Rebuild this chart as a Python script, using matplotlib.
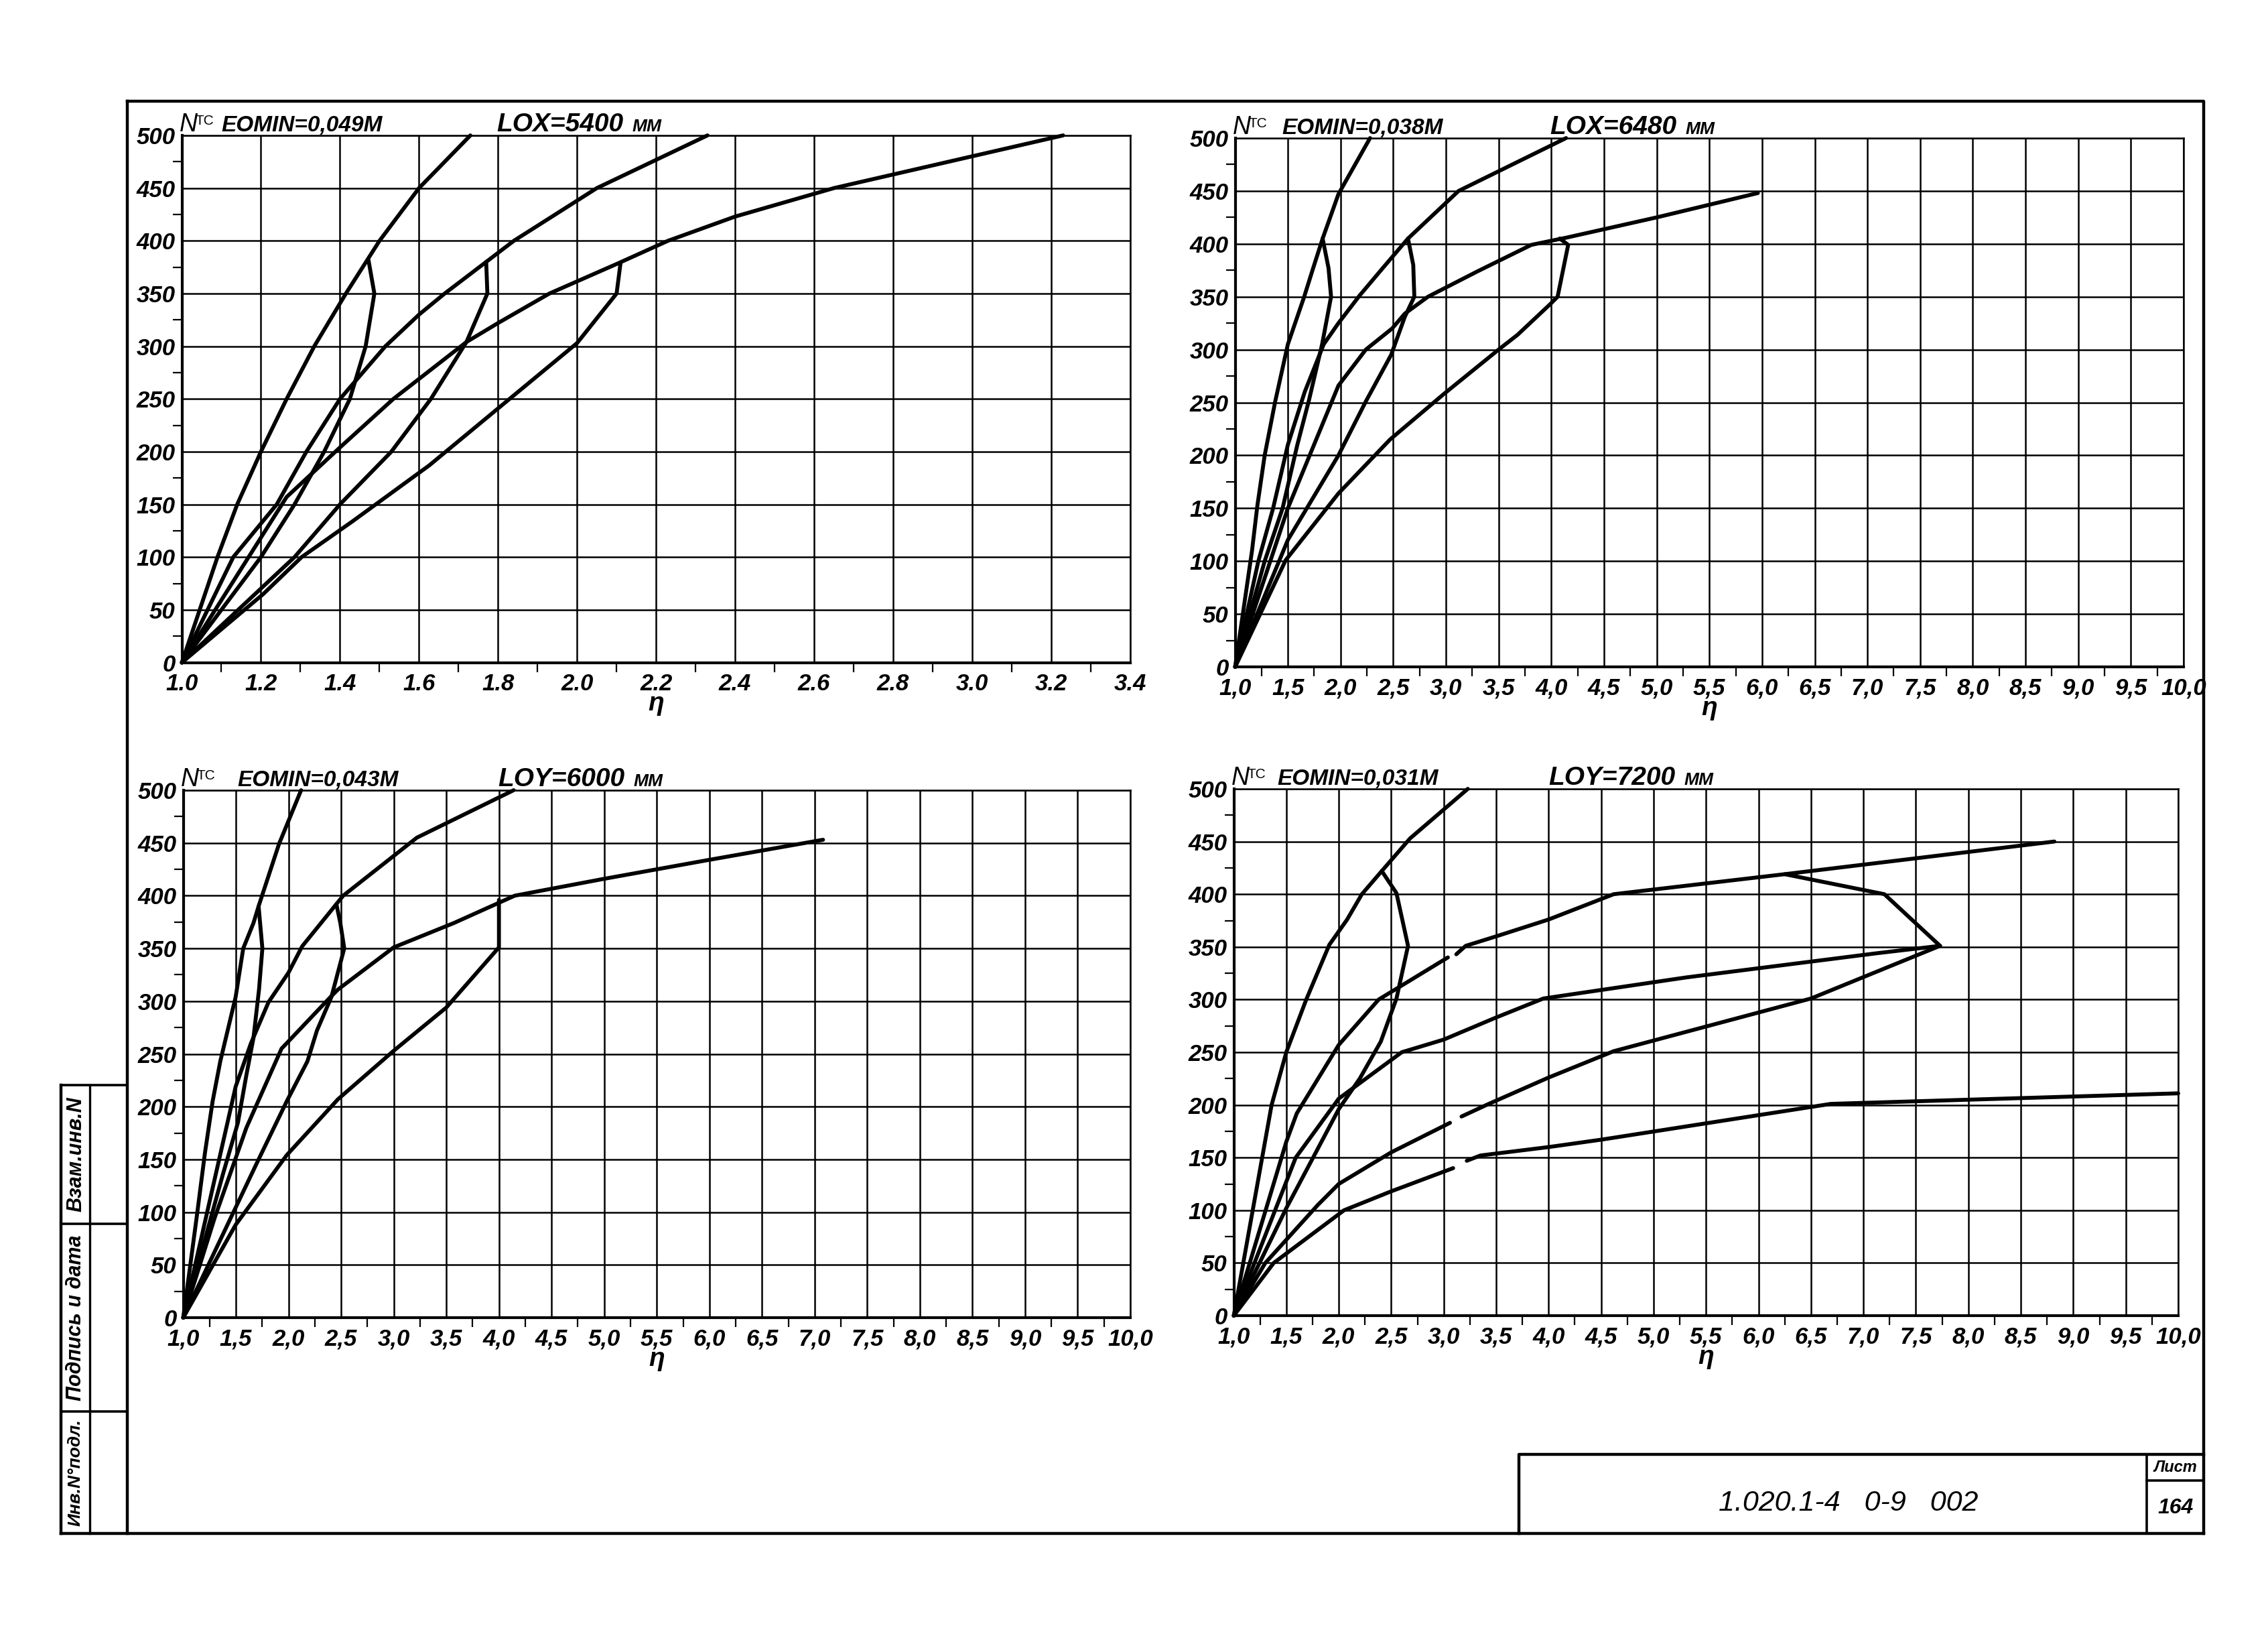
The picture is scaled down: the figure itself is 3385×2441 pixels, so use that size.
import matplotlib
matplotlib.use("Agg")
import matplotlib.pyplot as plt
import numpy as np
from matplotlib import font_manager

W, H, DPI = 3385, 2441, 100
GAP = (np.nan, np.nan)

# panel 1: EOMIN = 0,049 M, LOX = 5400 MM  (eta, N tc)
p1_a = [(1.0, 0), (1.09, 100), (1.14, 150), (1.2, 200), (1.265, 250), (1.335, 300), (1.415, 350), (1.5, 400), (1.6, 450), (1.73, 500)]
p1_l1 = [(1.0, 0), (1.2, 100), (1.285, 150), (1.36, 200), (1.425, 250), (1.465, 300), (1.487, 350), (1.472, 382)]
p1_b = [(1.0, 0), (1.13, 100), (1.24, 150), (1.315, 200), (1.40, 250), (1.515, 300), (1.60, 330), (1.665, 350), (1.77, 380), (1.84, 400), (2.05, 450), (2.33, 500)]
p1_l2 = [(1.0, 0), (1.285, 100), (1.40, 150), (1.53, 200), (1.63, 250), (1.72, 304), (1.773, 350), (1.77, 380)]
p1_c = [(1.0, 0), (1.265, 157), (1.40, 204), (1.535, 250), (1.72, 304), (1.80, 322), (1.93, 350), (2.10, 378), (2.23, 400), (2.40, 423), (2.65, 450), (3.23, 500)]
p1_l3 = [(1.0, 0), (1.206, 65), (1.303, 100), (1.432, 134), (1.626, 187), (1.80, 241), (2.0, 303), (2.1, 350), (2.11, 379)]

# panel 2: EOMIN = 0,038 M, LOX = 6480 MM
p2_a = [(1.0, 0), (1.16, 110), (1.21, 152), (1.28, 200), (1.38, 251), (1.5, 305), (1.655, 350), (1.74, 377), (1.83, 405), (1.98, 447), (2.28, 500)]
p2_l1 = [(1.0, 0), (1.28, 100), (1.45, 150), (1.59, 210), (1.70, 252), (1.825, 305), (1.91, 350), (1.886, 377), (1.83, 405)]
p2_b = [(1.0, 0), (1.22, 100), (1.36, 150), (1.5, 210), (1.66, 260), (1.84, 305), (1.98, 325), (2.18, 351), (2.40, 377), (2.64, 405), (3.12, 450), (4.14, 500)]
p2_l2 = [(1.0, 0), (1.5, 120), (1.98, 200), (2.24, 251), (2.48, 295), (2.61, 331), (2.70, 350), (2.69, 380), (2.64, 405)]
p2_c = [(1.0, 0), (1.5, 150), (1.98, 266), (2.24, 300), (2.49, 320), (2.61, 334), (2.83, 350), (3.3, 374), (3.81, 399), (4.15, 406), (5.0, 425), (5.96, 448)]
p2_l3 = [(1.0, 0), (1.48, 101), (1.98, 164), (2.47, 215), (2.98, 258), (3.5, 300), (3.68, 314), (3.99, 343), (4.06, 350), (4.16, 399), (4.08, 405)]

# panel 3: EOMIN = 0,043 M, LOY = 6000 MM
p3_a = [(1.0, 0), (1.134, 100), (1.206, 156), (1.279, 205), (1.352, 243), (1.498, 304), (1.57, 350), (1.667, 374), (1.716, 390), (1.91, 449), (2.12, 500)]
p3_l1 = [(1.0, 0), (1.38, 137), (1.52, 185), (1.60, 230), (1.667, 265), (1.72, 311), (1.752, 350), (1.716, 390)]
p3_b = [(1.0, 0), (1.25, 110), (1.498, 219), (1.643, 260), (1.81, 299), (2.0, 327), (2.13, 352), (2.455, 392), (2.52, 400), (3.22, 455), (4.14, 500)]
p3_l2 = [(1.0, 0), (1.716, 150), (1.983, 205), (2.18, 243), (2.27, 272), (2.408, 304), (2.53, 350), (2.493, 374), (2.455, 392)]
p3_c = [(1.0, 0), (1.3, 95), (1.6, 180), (1.934, 255), (2.40, 304), (2.47, 311), (3.0, 351), (3.57, 374), (4.15, 400), (5.0, 416), (6.0, 434), (7.08, 453)]
p3_l3 = [(1.0, 0), (1.498, 88), (1.983, 154), (2.47, 207), (3.0, 253), (3.5, 294), (4.0, 351), (4.0, 396)]

# panel 4: EOMIN = 0,031 M, LOY = 7200 MM
p4_a = [(1.0, 0), (1.18, 100), (1.36, 200), (1.5, 250), (1.69, 300), (1.91, 352), (2.08, 376), (2.22, 400), (2.41, 422), (2.68, 453), (3.23, 500)]
p4_l1 = [(1.0, 0), (1.5, 102), (2.0, 196), (2.2, 225), (2.40, 260), (2.55, 301), (2.66, 351), (2.55, 401), (2.41, 422)]
p4_b = [(1.0, 0), (1.5, 165), (1.6, 192), (2.0, 257), (2.38, 300), (3.04, 340), GAP, (3.12, 343), (3.21, 351), (3.5, 360), (4.0, 376), (4.62, 400), (6.25, 419), (8.82, 450)]
p4_l2 = [(6.25, 419), (7.2, 400), (7.73, 351)]
p4_c = [(1.0, 0), (1.59, 150), (2.0, 206), (2.6, 250), (3.0, 262), (3.5, 283), (3.95, 301), (5.31, 321), (7.13, 344), (7.73, 351)]
p4_d = [(1.0, 0), (1.3, 50), (1.8, 105), (2.0, 125), (2.5, 155), (3.06, 183), GAP, (3.17, 189), (3.43, 201), (4.0, 226), (4.62, 251), (6.5, 301), (7.73, 351)]
p4_e = [(1.0, 0), (1.38, 50), (2.05, 100), (2.5, 118), (3.09, 140), GAP, (3.22, 147), (3.35, 152), (4.0, 160), (4.5, 167), (6.69, 201), (10.0, 211)]

eomin_labels = ["EOMIN=0,049M", "EOMIN=0,038M", "EOMIN=0,043M", "EOMIN=0,031M"]
length_labels = ["LOX=5400", "LOX=6480", "LOY=6000", "LOY=7200"]
stamp_labels = ["Взам.инв.N", "Подпись и дата", "Инв.N°подл."]
sheet_code = "1.020.1-4   0-9   002"
sheet_number = "164"

available = {f.name for f in font_manager.fontManager.ttflist}
FONT = "Liberation Sans" if "Liberation Sans" in available else "DejaVu Sans"
plt.rcParams["font.family"] = [FONT, "DejaVu Sans"]
plt.rcParams["font.style"] = "italic"


def draw_panel(fig, box, xmax, xstep, decimal, curves):
    """Draws one eta-N grid panel in pixel box (left, top, right, bottom)."""
    left, top, right, bottom = box
    ax = fig.add_axes([left / W, 1 - bottom / H, (right - left) / W, (bottom - top) / H])
    ax.set_xlim(1.0, xmax)
    ax.set_ylim(0, 500)

    major_x = np.round(np.arange(1.0, xmax + xstep / 2, xstep), 2)
    ax.set_xticks(major_x)
    ax.set_xticklabels([f"{v:.1f}".replace(".", decimal) for v in major_x])
    ax.set_xticks(major_x[:-1] + xstep / 2, minor=True)
    major_y = np.arange(0, 501, 50)
    ax.set_yticks(major_y)
    ax.set_yticklabels([str(v) for v in major_y])
    ax.set_yticks(major_y[:-1] + 25, minor=True)

    ax.tick_params(which="major", length=0, labelsize=25)
    ax.tick_params(axis="x", which="major", pad=11)
    ax.tick_params(axis="y", which="major", pad=7)
    ax.tick_params(which="minor", length=10, width=1.6, direction="out")
    for label in ax.get_xticklabels() + ax.get_yticklabels():
        label.set_fontstyle("italic")
        label.set_fontweight("bold")

    ax.grid(True, which="major", color="black", linewidth=1.8)
    for side in ["left", "bottom"]:
        ax.spines[side].set_linewidth(3.0)
    for side in ["top", "right"]:
        ax.spines[side].set_linewidth(1.8)

    for points in curves:
        data = np.array(points, dtype=float)
        ax.plot(data[:, 0], data[:, 1], color="black", linewidth=4.2,
                solid_joinstyle="round", solid_capstyle="round", clip_on=False, zorder=3)
    return ax


fig = plt.figure(figsize=(W / DPI, H / DPI), dpi=DPI, facecolor="white")
bg = fig.add_axes([0, 0, 1, 1])
bg.set_xlim(0, W)
bg.set_ylim(H, 0)
bg.axis("off")

boxes = [(271.5, 202, 1687, 988.5), (1843.5, 206, 3259, 995), (273.5, 1179, 1687, 1966), (1841.5, 1177, 3251, 1963)]
limits = [(3.4, 0.2, "."), (10.0, 0.5, ","), (10.0, 0.5, ","), (10.0, 0.5, ",")]
panel_curves = [
    [p1_a, p1_l1, p1_b, p1_l2, p1_c, p1_l3],
    [p2_a, p2_l1, p2_b, p2_l2, p2_c, p2_l3],
    [p3_a, p3_l1, p3_b, p3_l2, p3_c, p3_l3],
    [p4_a, p4_l1, p4_b, p4_l2, p4_c, p4_d, p4_e],
]
eomin_offsets = [59, 70, 81, 65]

for box, (xmax, xstep, dec), curves, eomin, length, off in zip(
        boxes, limits, panel_curves, eomin_labels, length_labels, eomin_offsets):
    draw_panel(fig, box, xmax, xstep, dec, curves)
    left, top, right, bottom = box
    base = top - 6
    bg.text(left - 4, base, "N", fontsize=27, ha="left", va="baseline")
    bg.text(left + 20, base - 10, "TC", fontsize=15, fontstyle="normal", ha="left", va="baseline")
    bg.text(left + off, base, eomin, fontsize=24, ha="left", va="baseline", fontweight="bold")
    bg.text(left + 470, base, length, fontsize=28, ha="left", va="baseline", fontweight="bold")
    bg.text(left + 672, base, "MM", fontsize=19, ha="left", va="baseline", fontweight="bold")
    bg.text((left + right) / 2, bottom + 62, "η", fontsize=28, ha="center", va="center",
            fontweight="bold")

# drawing frame
frame_kw = dict(color="black", linewidth=3.2, solid_capstyle="projecting")
bg.plot([190, 3289, 3289], [151, 151, 2288], **frame_kw)
bg.plot([190, 190], [151, 2288], **frame_kw)
bg.plot([91, 3289], [2288, 2288], **frame_kw)

# side stamp
bg.plot([91, 91], [1619, 2288], **frame_kw)
bg.plot([134, 134], [1619, 2288], color="black", linewidth=2.4)
stamp_rows = [1619, 1826, 2106, 2288]
for y in stamp_rows[:-1]:
    bg.plot([91, 190], [y, y], color="black", linewidth=2.6)
for label, y0, y1, size in zip(stamp_labels, stamp_rows[:-1], stamp_rows[1:], [22, 22, 19]):
    bg.text(113, (y0 + y1) / 2, label, rotation=90, fontsize=size, fontweight="bold",
            ha="center", va="center")

# title block
bg.plot([2267, 2267, 3289], [2288, 2170, 2170], **frame_kw)
bg.plot([3204, 3204], [2170, 2288], color="black", linewidth=2.6)
bg.plot([3204, 3289], [2209, 2209], color="black", linewidth=2.6)
bg.text(2759, 2243, sheet_code, fontsize=31, ha="center", va="center")
bg.text(3247, 2190, "Лист", fontsize=17, ha="center", va="center", fontweight="bold")
bg.text(3247, 2250, sheet_number, fontsize=23, ha="center", va="center", fontweight="bold")

fig.savefig("out.png", dpi=DPI, facecolor="white")
